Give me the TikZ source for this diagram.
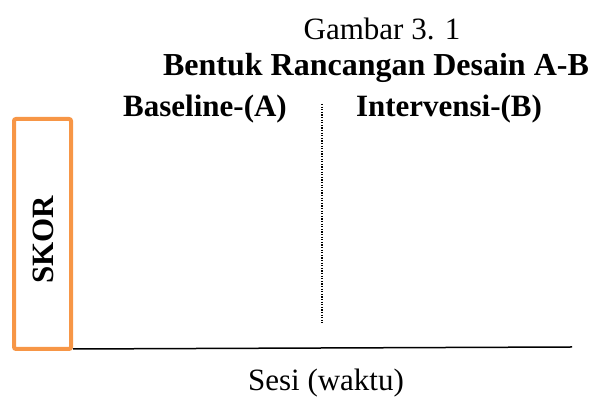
\documentclass[tikz,border=0pt]{standalone}
\usepackage{fontspec}
\setmainfont{Liberation Serif}
\definecolor{skororange}{HTML}{F79646}
\tikzset{
  judul/.style={font=\fontsize{32}{38}\selectfont\bfseries, inner sep=0pt},
  fase/.style={font=\fontsize{31}{37}\selectfont\bfseries, inner sep=0pt}
}
\begin{document}
\begin{tikzpicture}[x=1pt,y=1pt]
                \useasboundingbox (0,0) rectangle (590,398);
                \node[font=\fontsize{31}{37}\selectfont, inner sep=0pt] (G) at (382, 369) {Gambar 3. 1};
                \node[judul] (T) at (376, 330) {Bentuk Rancangan Desain A-B};
                \node[fase] (A) at (205, 289) {Baseline-(A)};
                \node[fase] (B) at (449, 289) {Intervensi-(B)};
                \node[draw=skororange,line width=4pt,rounded corners=2pt,minimum width=57pt,minimum height=230pt] (S) at (42.5, 164) {};
                \node[rotate=90,font=\fontsize{31}{37}\selectfont\bfseries, inner sep=0pt] (K) at (43, 158) {SKOR};
                \coordinate (P) at (322, 294);
                \coordinate (Q) at (322, 75);
                \coordinate (X) at (572, 51);
                \node[font=\fontsize{31}{37}\selectfont, inner sep=0pt] (W) at (326, 15) {Sesi (waktu)};

                \draw[line width=1.2pt, dash pattern=on 1.2pt off 1.4pt] (P) -- (Q);
                \draw[line width=1.5pt] (S.south east) ++(0,2) -- (X);
            \end{tikzpicture}
\end{document}
